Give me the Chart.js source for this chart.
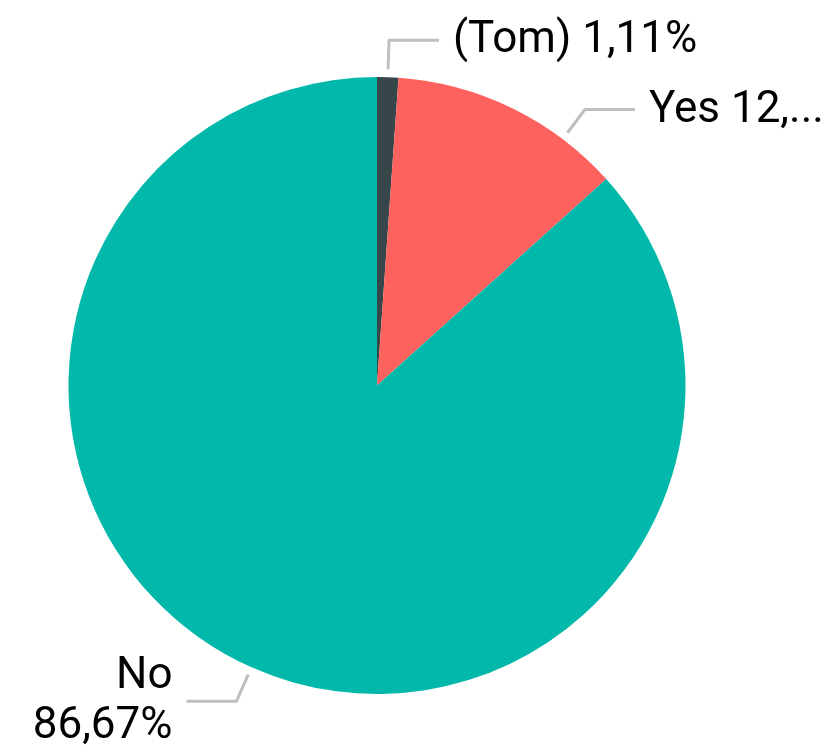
<!DOCTYPE html>
<html>
<head>
<meta charset="utf-8">
<script src="https://cdn.jsdelivr.net/npm/chart.js@4"></script>
<style>
  html, body { margin: 0; padding: 0; background: #fff; }
  #wrap { width: 831px; height: 750px; }
</style>
</head>
<body>
<div id="wrap"><canvas id="pie" width="831" height="750"></canvas></div>
<script>
const categories = ["(Tom)", "Yes", "No"];
const counts = [1, 11, 78];
const sliceColors = ["#374649", "#FD625E", "#01B8AA"];

const total = counts.reduce((a, b) => a + b, 0);
const pct = v => (v / total * 100).toFixed(2).replace(".", ",") + "%";

// leader lines + outside labels, placed from the arc geometry
const outsideLabels = {
  id: "outsideLabels",
  afterDatasetsDraw(chart, args, opts) {
    const ctx = chart.ctx;
    const meta = chart.getDatasetMeta(0);
    const W = chart.width;
    ctx.save();
    ctx.font = opts.font;
    meta.data.forEach((arc, i) => {
      const p = arc.getProps(["x", "y", "startAngle", "endAngle", "outerRadius"], true);
      const frac = opts.anchorFrac[i] ?? 0.5;
      const a = p.startAngle + (p.endAngle - p.startAngle) * frac;
      const r0 = p.outerRadius + 8, r1 = p.outerRadius + 37;
      const sx = p.x + Math.cos(a) * r0, sy = p.y + Math.sin(a) * r0;
      const ex = p.x + Math.cos(a) * r1, ey = p.y + Math.sin(a) * r1;
      const right = Math.cos(a) >= 0;
      const hx = ex + (right ? 50 : -50);

      ctx.strokeStyle = "#bfbfbf";
      ctx.lineWidth = 3;
      ctx.beginPath();
      ctx.moveTo(sx, sy);
      ctx.lineTo(ex, ey);
      ctx.lineTo(hx, ey);
      ctx.stroke();

      const tx = hx + (right ? 14 : -14);
      const room = right ? W - tx - 1 : tx - 6;
      let text = categories[i] + " " + pct(counts[i]);
      let lines = [text];
      if (ctx.measureText(text).width > room) {
        if (right) {
          // truncate with ellipsis
          let t = text;
          while (t.length > 1 && ctx.measureText(t + "...").width > room) t = t.slice(0, -1);
          lines = [t + "..."];
        } else {
          lines = [categories[i], pct(counts[i])];
        }
      }
      ctx.fillStyle = "#000";
      ctx.textAlign = right ? "left" : "right";
      ctx.textBaseline = "middle";
      const lh = 50;
      const y0 = ey - (lines.length - 1) * lh / 2;
      lines.forEach((l, k) => ctx.fillText(l, tx, y0 + k * lh + 1));
    });
    ctx.restore();
  }
};

new Chart(document.getElementById("pie"), {
  type: "pie",
  data: {
    labels: categories,
    datasets: [{
      data: counts,
      backgroundColor: sliceColors,
      borderWidth: 0
    }]
  },
  options: {
    responsive: false,
    animation: false,
    layout: { padding: { left: 68, right: 145, top: 77, bottom: 56 } },
    plugins: {
      legend: { display: false },
      tooltip: { enabled: false },
      outsideLabels: {
        font: "44px Roboto",
        anchorFrac: [0.5, 0.75, 0.5]
      }
    }
  },
  plugins: [outsideLabels]
});
</script>
</body>
</html>
